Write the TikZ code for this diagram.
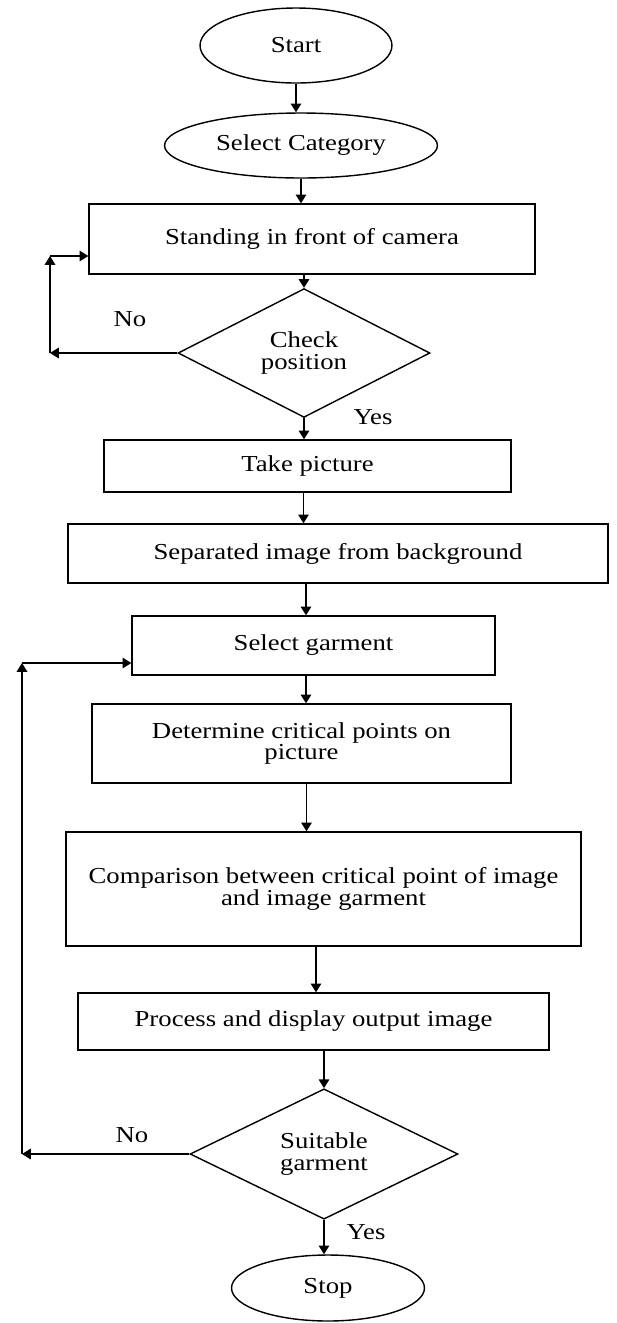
\documentclass[tikz,border=0pt]{standalone}
\usepackage{fontspec}
\setmainfont{Liberation Serif}[FakeStretch=1.17]
\usetikzlibrary{shapes.geometric,arrows.meta,positioning,calc}

\begin{document}
\begin{tikzpicture}[
    x=0.02cm, y=-0.02cm,
    every node/.style={font=\fontsize{13}{12.5}\selectfont},
    terminal/.style={draw, ellipse, inner sep=0pt, line width=0.8pt},
    block/.style={draw, rectangle, inner sep=0pt, align=center, line width=0.8pt},
    decision/.style={draw, diamond, inner sep=0pt, align=center, line width=0.8pt},
    arr/.style={-{Triangle[length=5pt,width=6pt]}, line width=0.8pt}
]
\useasboundingbox (0,0) rectangle (616,1323);

\node[terminal, minimum width=3.84cm, minimum height=1.5cm] (start) at (296,45.5) {Start};
\node[terminal, minimum width=5.46cm, minimum height=1.3cm] (cat) at (301,145.5) {Select Category};
\node[block, minimum width=8.92cm, minimum height=1.4cm] (stand) at (312,239) {Standing in front of camera};
\node[decision, minimum width=5.04cm, minimum height=2.4cm] (check) at (304,353) {Check\\position};
\node[block, minimum width=8.14cm, minimum height=1.04cm] (take) at (307.5,466) {Take picture};
\node[block, minimum width=10.8cm, minimum height=1.18cm] (sep) at (338,553.5) {Separated image from background};
\node[block, minimum width=7.26cm, minimum height=1.18cm] (garm) at (313.5,645.5) {Select garment};
\node[block, minimum width=8.38cm, minimum height=1.58cm] (det) at (301.5,743.5) {Determine critical points on\\picture};
\node[block, minimum width=10.3cm, minimum height=2.28cm] (comp) at (323.5,889) {Comparison between critical point of image\\and image garment};
\node[block, minimum width=9.42cm, minimum height=1.14cm] (proc) at (313.5,1021.5) {Process and display output image};
\node[decision, minimum width=5.36cm, minimum height=2.44cm] (suit) at (324,1154) {Suitable\\garment};
\node[terminal, minimum width=3.86cm, minimum height=1.32cm] (stop) at (328,1288) {Stop};

\node (no1) at (130,319) {No};
\node (yes1) at (373,417) {Yes};
\node (no2) at (132,1135) {No};
\node (yes2) at (366,1232) {Yes};

\coordinate (loopA) at (50,256);
\coordinate (loopB) at (22,663);

\draw[arr] (start.south) -- (start.south |- cat.north);
\draw[arr] (cat.south) -- (cat.south |- stand.north);
\draw[arr] (stand.south -| check.north) -- (check.north);
\draw[arr] (check.south) -- (check.south |- take.north);
\draw[arr] ([xshift=-0.08cm]take.south) -- ([xshift=-0.08cm]take.south |- sep.north);
\draw[arr] ([xshift=-0.15cm]garm.north |- sep.south) -- ([xshift=-0.15cm]garm.north);
\draw[arr] ([xshift=-0.15cm]garm.south) -- ([xshift=-0.15cm]garm.south |- det.north);
\draw[arr] ([xshift=0.1cm]det.south) -- ([xshift=0.1cm]det.south |- comp.north);
\draw[arr] ([xshift=-0.15cm]comp.south) -- ([xshift=-0.15cm]comp.south |- proc.north);
\draw[arr] (proc.south -| suit.north) -- (suit.north);
\draw[arr] (suit.south) -- (suit.south |- stop.north);

\draw[arr] (check.west) -- (check.west -| loopA);
\draw[arr] (check.west -| loopA) -- (loopA);
\draw[arr] (loopA) -- (loopA -| stand.west);

\draw[arr] (suit.west) -- (suit.west -| loopB);
\draw[arr] (suit.west -| loopB) -- (loopB);
\draw[arr] (loopB) -- (loopB -| garm.west);
\end{tikzpicture}
\end{document}
